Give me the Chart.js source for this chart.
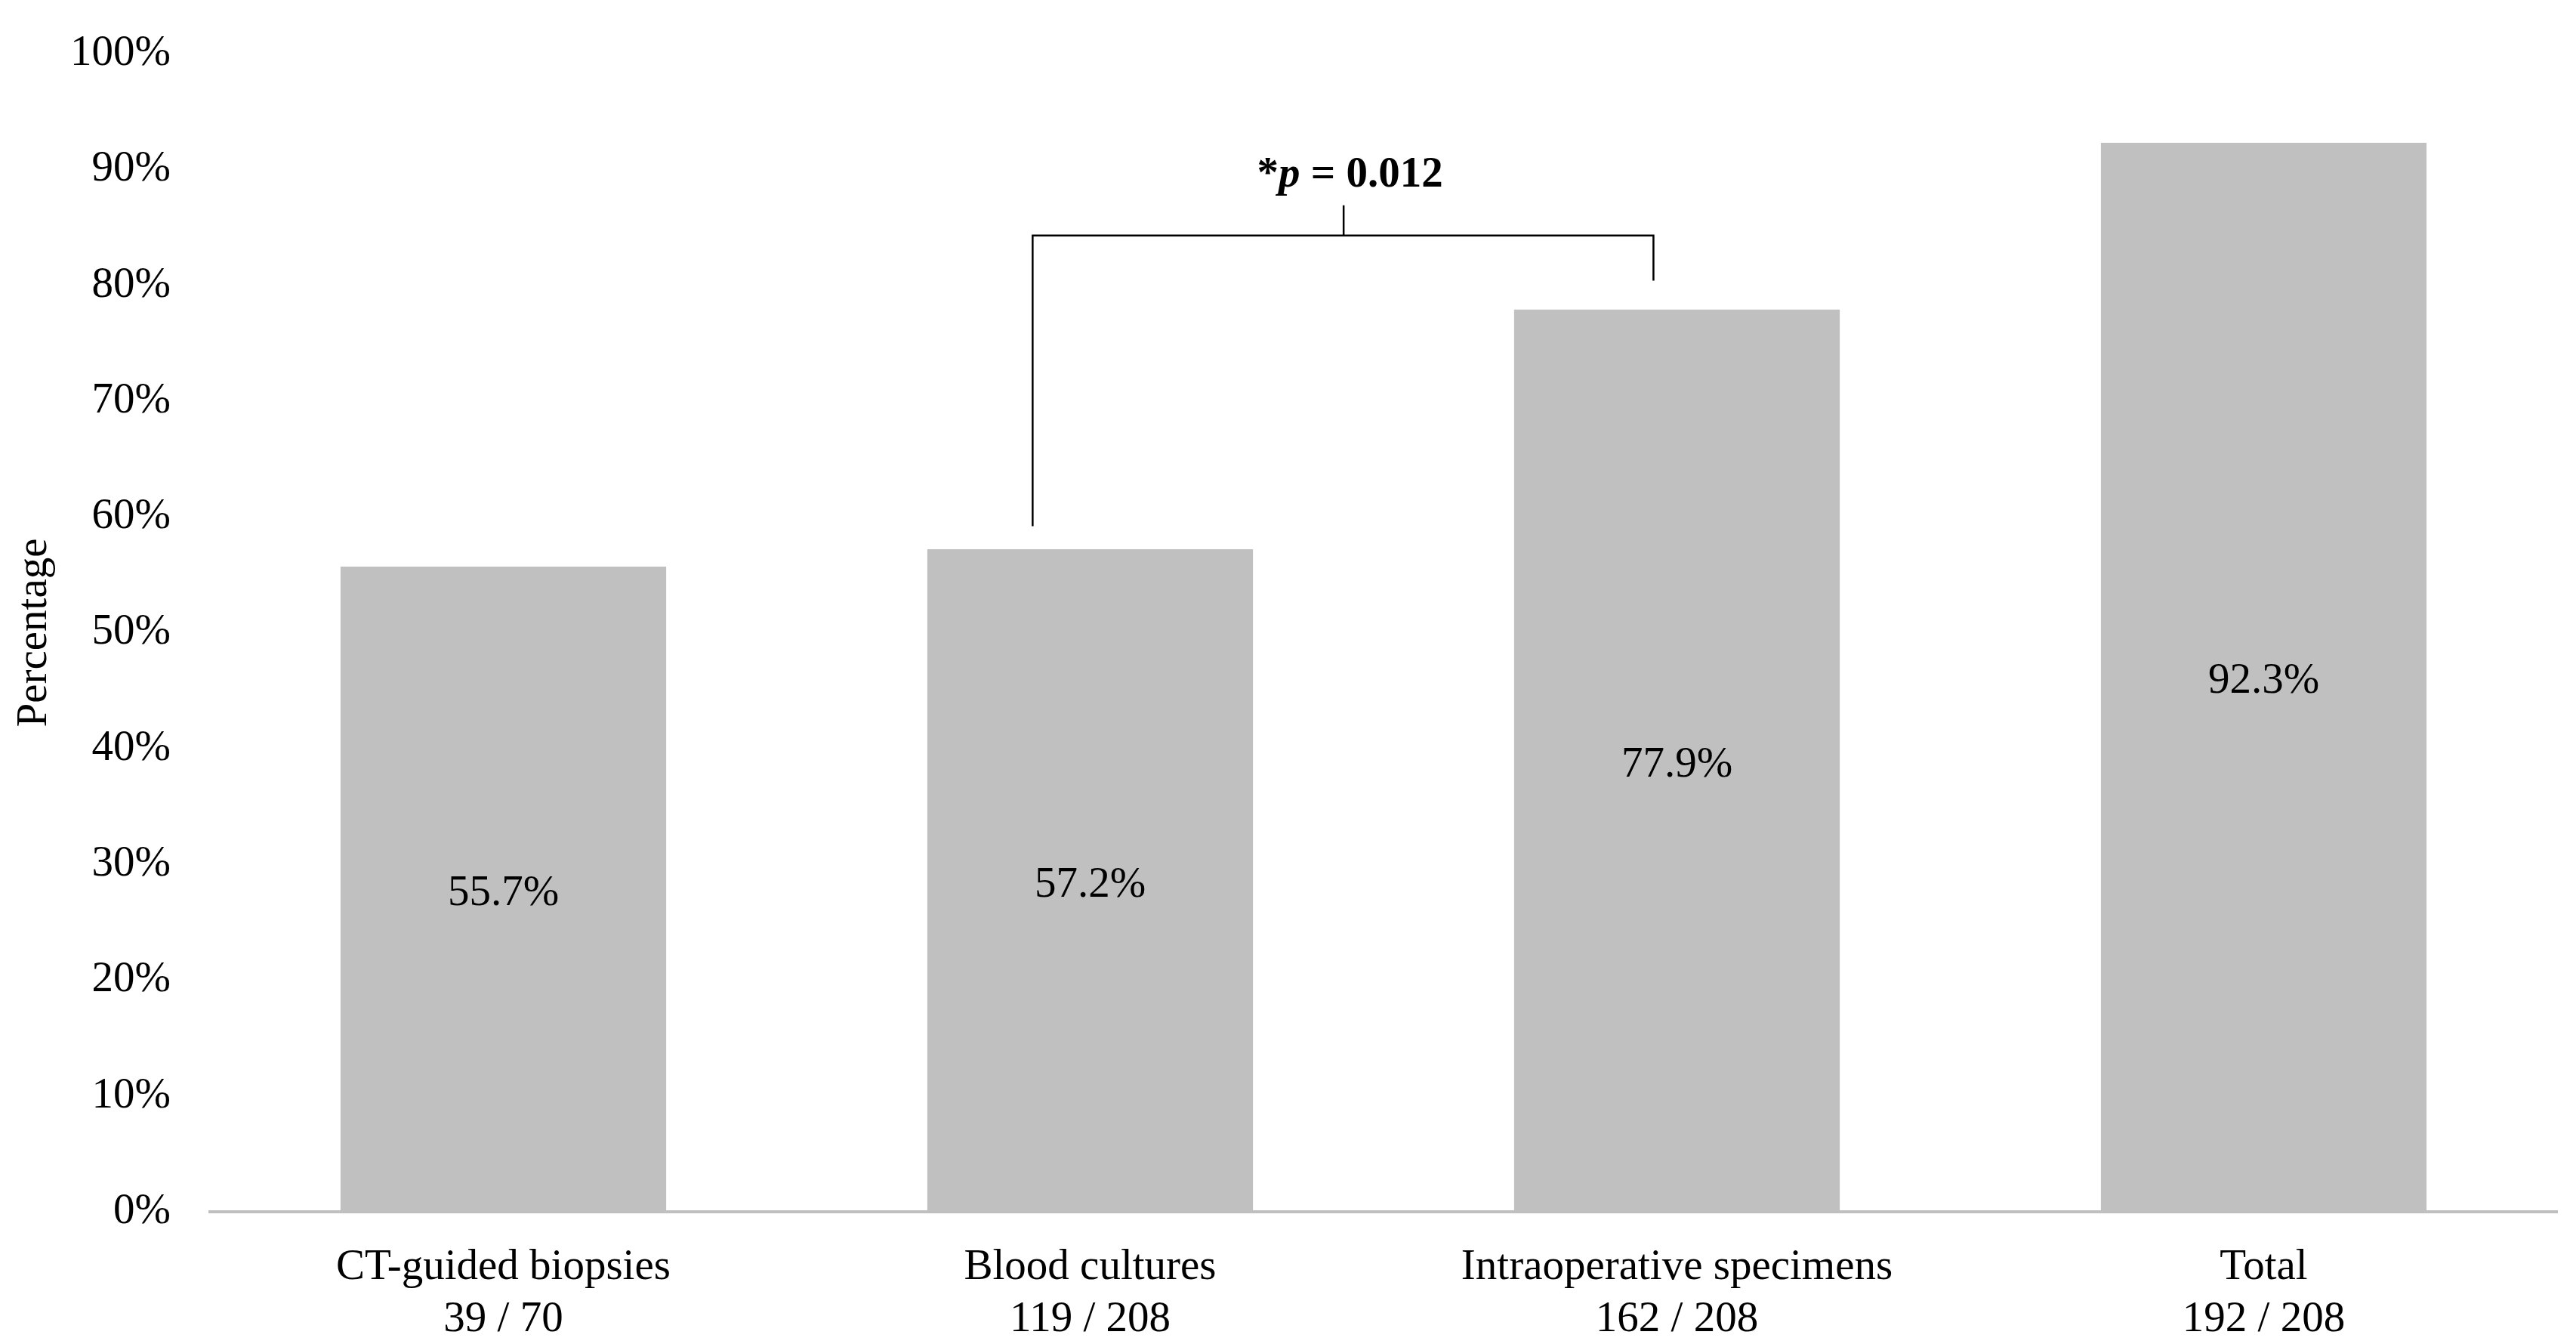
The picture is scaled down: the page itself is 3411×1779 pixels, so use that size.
<!DOCTYPE html>
<html>
<head>
<meta charset="utf-8">
<script src="https://cdn.jsdelivr.net/npm/chart.js@4.4.1/dist/chart.umd.min.js"></script>
<style>
  html, body { margin: 0; padding: 0; background: #ffffff; overflow: hidden; }
  #wrap { width: 3411px; height: 1779px; }
</style>
</head>
<body>
<div id="wrap"><canvas id="c" width="3411" height="1779"></canvas></div>
<script>
// ---- data ----
const categories = ['CT-guided biopsies', 'Blood cultures', 'Intraoperative specimens', 'Total'];
const counts = ['39 / 70', '119 / 208', '162 / 208', '192 / 208'];
const percentages = [55.7, 57.2, 77.9, 92.3];
const yTicks = [0, 10, 20, 30, 40, 50, 60, 70, 80, 90, 100];
const yAxisTitle = 'Percentage';
const pValueText = ['*', 'p', ' = 0.012'];

// ---- annotation geometry (in data units: category index / percent) ----
const bracket = {
  leftX: 0.902, rightX: 1.960,
  leftBottom: 59.2, rightBottom: 80.4,
  top: 84.3,
  tickX: 1.432, tickTop: 86.9,
  textX: 1.443, textY: 89.5
};

const FONT = "'Liberation Serif', 'Times New Roman', serif";
const FS = 57;

Chart.defaults.color = '#000000';
Chart.defaults.font.family = FONT;
Chart.defaults.font.size = FS;

const barLabelPlugin = {
  id: 'barLabels',
  afterDatasetsDraw(chart) {
    const ctx = chart.ctx;
    const meta = chart.getDatasetMeta(0);
    ctx.save();
    ctx.fillStyle = '#000000';
    ctx.font = FS + 'px ' + FONT;
    ctx.textAlign = 'center';
    ctx.textBaseline = 'middle';
    meta.data.forEach((bar, i) => {
      const cy = (bar.y + bar.base) / 2 + 6;
      ctx.fillText(percentages[i].toFixed(1) + '%', bar.x, cy);
    });
    ctx.restore();
  }
};

const bracketPlugin = {
  id: 'bracket',
  afterDatasetsDraw(chart) {
    const ctx = chart.ctx;
    const xs = chart.scales.x, ys = chart.scales.y;
    const X = v => xs.getPixelForValue(v);
    const Y = v => ys.getPixelForValue(v);
    ctx.save();
    ctx.strokeStyle = '#000000';
    ctx.lineWidth = 2.5;
    ctx.beginPath();
    ctx.moveTo(X(bracket.leftX), Y(bracket.leftBottom));
    ctx.lineTo(X(bracket.leftX), Y(bracket.top));
    ctx.lineTo(X(bracket.rightX), Y(bracket.top));
    ctx.lineTo(X(bracket.rightX), Y(bracket.rightBottom));
    ctx.moveTo(X(bracket.tickX), Y(bracket.top));
    ctx.lineTo(X(bracket.tickX), Y(bracket.tickTop));
    ctx.stroke();

    const fonts = [
      'bold ' + FS + 'px ' + FONT,
      'italic bold ' + FS + 'px ' + FONT,
      'bold ' + FS + 'px ' + FONT
    ];
    let total = 0;
    const widths = pValueText.map((t, i) => { ctx.font = fonts[i]; const w = ctx.measureText(t).width; total += w; return w; });
    let x = X(bracket.textX) - total / 2;
    const y = Y(bracket.textY);
    ctx.fillStyle = '#000000';
    ctx.textAlign = 'left';
    ctx.textBaseline = 'middle';
    pValueText.forEach((t, i) => { ctx.font = fonts[i]; ctx.fillText(t, x, y); x += widths[i]; });
    ctx.restore();
  }
};

new Chart(document.getElementById('c'), {
  type: 'bar',
  data: {
    labels: categories.map((c, i) => [c, counts[i]]),
    datasets: [{
      data: percentages,
      backgroundColor: '#c0c0c0',
      borderWidth: 0,
      categoryPercentage: 1.0,
      barPercentage: 0.555
    }]
  },
  options: {
    responsive: false,
    devicePixelRatio: 1,
    animation: false,
    layout: { padding: { top: 71, right: 25, bottom: 0, left: 0 } },
    plugins: { legend: { display: false }, tooltip: { enabled: false } },
    scales: {
      x: {
        grid: { display: false, drawTicks: false },
        border: { display: true, color: '#bfbfbf', width: 4 },
        ticks: { color: '#000000', font: { size: FS, family: FONT, lineHeight: 1.2 }, padding: 40, maxRotation: 0, autoSkip: false },
        afterFit(scale) { scale.height = 175; scale.paddingLeft = 0; scale.paddingRight = 0; }
      },
      y: {
        min: 0, max: 100,
        afterBuildTicks(scale) { scale.ticks = yTicks.map(v => ({ value: v })); },
        grid: { display: false, drawTicks: false },
        border: { display: false },
        ticks: { color: '#000000', font: { size: FS, family: FONT }, padding: 52, callback: v => v + '%' },
        title: { display: true, text: yAxisTitle, color: '#000000', font: { size: FS, family: FONT }, padding: { top: 12, bottom: 0 } },
        afterFit(scale) { scale.width = 278; scale.paddingTop = 0; scale.paddingBottom = 0; }
      }
    }
  },
  plugins: [barLabelPlugin, bracketPlugin]
});
</script>
</body>
</html>
